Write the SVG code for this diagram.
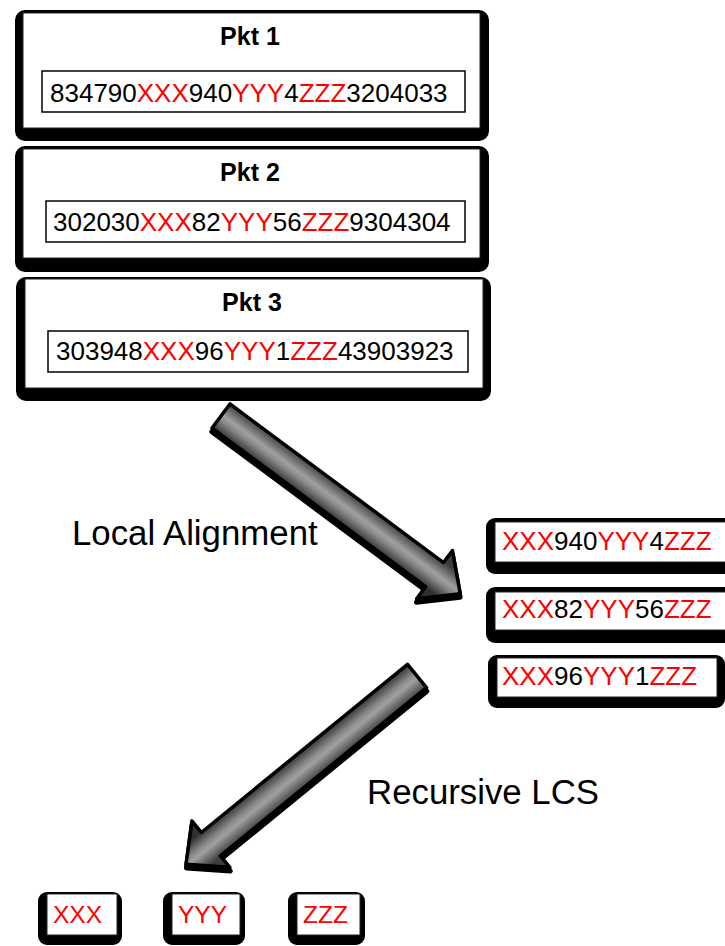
<svg xmlns="http://www.w3.org/2000/svg" width="725" height="946" viewBox="0 0 725 946">
  <style>
    .frame { fill: #000; }
    .card { fill: #fff; stroke: #222; stroke-width: 1; }
    .field { fill: #fff; stroke: #000; stroke-width: 1.5; }
    .title { font-family: "Liberation Sans", Arial, sans-serif; font-weight: bold; font-size: 25px; fill: #000; text-anchor: middle; }
    .seq { font-family: "Liberation Sans", Arial, sans-serif; font-size: 26px; fill: #000; }
    .tok { font-family: "Liberation Sans", Arial, sans-serif; font-size: 24.5px; fill: #ff0000; }
    .label { font-family: "Liberation Sans", Arial, sans-serif; font-size: 34.8px; fill: #000; }
    .r { fill: #ff0000; }
    .arrow-body { fill: url(#steel); stroke: #000; stroke-width: 3.5; stroke-linejoin: round; }
    .arrow-shadow { fill: #000; stroke: #000; stroke-width: 5; stroke-linejoin: round; }
  </style>
  <defs>
    <!-- shaded steel fill across the arrow width (local y axis) -->
    <linearGradient id="steel" gradientUnits="userSpaceOnUse" x1="0" y1="-16" x2="0" y2="16">
      <stop offset="0" stop-color="#3c3c3c"/>
      <stop offset="0.45" stop-color="#a0a0a0"/>
      <stop offset="0.6" stop-color="#8c8c8c"/>
      <stop offset="1" stop-color="#2e2e2e"/>
    </linearGradient>
    <!-- block arrow pointing along +x, tail centred on the origin -->
    <path id="blockArrow" d="M0,-15 L266,-15 L266,-30 L298,0 L266,30 L266,15 L0,15 Z"/>
  </defs>

  <rect width="725" height="946" fill="#fff"/>

  <!-- packets -->
  <g id="pkt1">
    <rect class="frame" x="15" y="10" width="474" height="131" rx="10"/>
    <rect class="card" x="23" y="13" width="457" height="115"/>
    <text class="title" x="250" y="45">Pkt 1</text>
    <rect class="field" x="42" y="71" width="423" height="41"/>
    <text class="seq" x="50" y="102">834790<tspan class="r">XXX</tspan>940<tspan class="r">YYY</tspan>4<tspan class="r">ZZZ</tspan>3204033</text>
  </g>

  <g id="pkt2">
    <rect class="frame" x="15" y="146" width="474" height="126" rx="10"/>
    <rect class="card" x="23" y="149" width="457" height="109"/>
    <text class="title" x="250" y="181">Pkt 2</text>
    <rect class="field" x="46" y="201" width="419" height="41"/>
    <text class="seq" x="53" y="231">302030<tspan class="r">XXX</tspan>82<tspan class="r">YYY</tspan>56<tspan class="r">ZZZ</tspan>9304304</text>
  </g>

  <g id="pkt3">
    <rect class="frame" x="16" y="277" width="475" height="124" rx="10"/>
    <rect class="card" x="25" y="279" width="458" height="109"/>
    <text class="title" x="252" y="311">Pkt 3</text>
    <rect class="field" x="48" y="331" width="420" height="41"/>
    <text class="seq" x="56" y="360">303948<tspan class="r">XXX</tspan>96<tspan class="r">YYY</tspan>1<tspan class="r">ZZZ</tspan>43903923</text>
  </g>

  <!-- aligned segments -->
  <g id="aligned1">
    <rect class="frame" x="486" y="518" width="250" height="56" rx="9"/>
    <rect class="card" x="495" y="522" width="240" height="40"/>
    <text class="seq" x="502" y="550"><tspan class="r">XXX</tspan>940<tspan class="r">YYY</tspan>4<tspan class="r">ZZZ</tspan></text>
  </g>

  <g id="aligned2">
    <rect class="frame" x="486" y="587" width="250" height="56" rx="9"/>
    <rect class="card" x="495" y="592" width="240" height="38"/>
    <text class="seq" x="502" y="618"><tspan class="r">XXX</tspan>82<tspan class="r">YYY</tspan>56<tspan class="r">ZZZ</tspan></text>
  </g>

  <g id="aligned3">
    <rect class="frame" x="488" y="655" width="237" height="53" rx="9"/>
    <rect class="card" x="497" y="658" width="220" height="39"/>
    <text class="seq" x="502" y="685"><tspan class="r">XXX</tspan>96<tspan class="r">YYY</tspan>1<tspan class="r">ZZZ</tspan></text>
  </g>

  <!-- common tokens -->
  <g id="tokX">
    <rect class="frame" x="38" y="892" width="84" height="53" rx="9"/>
    <rect class="card" x="47" y="894" width="70" height="41"/>
    <text class="tok" x="53" y="923">XXX</text>
  </g>

  <g id="tokY">
    <rect class="frame" x="163" y="892" width="82" height="53" rx="9"/>
    <rect class="card" x="172" y="894" width="68" height="41"/>
    <text class="tok" x="178" y="923">YYY</text>
  </g>

  <g id="tokZ">
    <rect class="frame" x="288" y="892" width="77" height="53" rx="9"/>
    <rect class="card" x="297" y="894" width="63" height="41"/>
    <text class="tok" x="303" y="923">ZZZ</text>
  </g>

  <!-- step labels -->
  <g id="labels">
    <text class="label" x="72" y="545">Local Alignment</text>
    <text class="label" x="367" y="804">Recursive LCS</text>
  </g>

  <!-- connectors -->
  <g id="connectors">
    <g transform="translate(221,416) rotate(36.6)">
      <use href="#blockArrow" class="arrow-shadow" transform="translate(2,3)"/>
      <use href="#blockArrow" class="arrow-body"/>
    </g>
    <g transform="translate(417,676) rotate(140.8)">
      <use href="#blockArrow" class="arrow-shadow" transform="translate(2,-3)"/>
      <use href="#blockArrow" class="arrow-body"/>
    </g>
  </g>
</svg>
